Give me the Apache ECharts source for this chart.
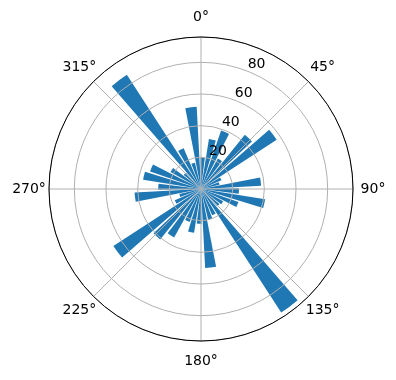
<!DOCTYPE html>
<html>
<head>
<meta charset="utf-8">
<script src="https://cdn.jsdelivr.net/npm/echarts@6/dist/echarts.min.js"></script>
<style>
  html, body { margin: 0; padding: 0; background: #fff; }
  #chart { width: 396px; height: 380px; }
</style>
</head>
<body>
<div id="chart"></div>
<script>
// 36 direction bins of 10 degrees, clockwise from north
const bins = ['0', '10', '20', '30', '40', '50', '60', '70', '80', '90',
              '100', '110', '120', '130', '140', '150', '160', '170', '180', '190',
              '200', '210', '220', '230', '240', '250', '260', '270', '280', '290',
              '300', '310', '320', '330', '340', '350'];
const counts = [20, 32, 39, 22, 44, 57, 14, 12, 38, 24,
                41, 25, 16, 15, 93, 18, 20, 50, 22, 28,
                22, 35, 41, 66, 18, 14, 42, 27, 37, 34,
                22, 14, 86, 28, 17, 52];
const rMax = 96;
const radialTicks = [20, 40, 60, 80];
const angleTicks = [0, 45, 90, 135, 180, 225, 270, 315];

const center = [201, 189];
const outerPx = 152;
const labelPx = 172;   // where the degree labels sit, in pixels from centre
const font = 'DejaVu Sans';
const gridColor = '#b0b0b0';

const chart = echarts.init(document.getElementById('chart'));

chart.setOption({
    animation: false,
    polar: [
        { center: center, radius: outerPx },        // bars
        { center: center, radius: outerPx },        // grid
        { center: center, radius: [10, 162] },      // radial tick labels
        { center: center, radius: labelPx }         // degree labels
    ],
    angleAxis: [
        {
            polarIndex: 0, type: 'category', data: bins,
            startAngle: 92, clockwise: true,
            axisLine: { show: false }, axisTick: { show: false },
            axisLabel: { show: false }, splitLine: { show: false }
        },
        {
            polarIndex: 1, type: 'value', min: 0, max: 360, interval: 45,
            startAngle: 90, clockwise: true, z: 6,
            axisLine: { lineStyle: { color: '#000', width: 1 } },
            axisTick: { show: false },
            axisLabel: { show: false },
            splitLine: { lineStyle: { color: gridColor, width: 1 } }
        },
        {
            polarIndex: 2, type: 'value', min: 0, max: 360,
            startAngle: 66, clockwise: true,
            axisLine: { show: false }, axisTick: { show: false },
            axisLabel: { show: false }, splitLine: { show: false }
        },
        {
            polarIndex: 3, type: 'value', min: 0, max: 360,
            startAngle: 90, clockwise: true,
            axisLine: { show: false }, axisTick: { show: false },
            axisLabel: { show: false }, splitLine: { show: false }
        }
    ],
    radiusAxis: [
        {
            polarIndex: 0, min: 0, max: rMax,
            axisLine: { show: false }, axisTick: { show: false },
            axisLabel: { show: false }, splitLine: { show: false }
        },
        {
            polarIndex: 1, min: 0, max: rMax, interval: 20, z: 5,
            axisLine: { show: false }, axisTick: { show: false },
            axisLabel: { show: false },
            splitLine: { lineStyle: { color: gridColor, width: 1 } }
        },
        {
            polarIndex: 2, min: 0, max: rMax, interval: 20, z: 7,
            axisLine: { show: false }, axisTick: { show: false },
            splitLine: { show: false },
            axisLabel: {
                margin: 0, align: 'center', verticalAlign: 'middle',
                color: '#000', fontSize: 14, fontFamily: font,
                formatter: v => radialTicks.includes(v) ? String(v) : ''
            }
        },
        {
            polarIndex: 3, min: 0, max: 1,
            axisLine: { show: false }, axisTick: { show: false },
            axisLabel: { show: false }, splitLine: { show: false }
        }
    ],
    series: [
        {
            type: 'bar',
            coordinateSystem: 'polar',
            polarIndex: 0,
            data: counts,
            barWidth: '80%',
            itemStyle: { color: '#1f77b4' }
        },
        {
            // degree labels centred just outside the ring, like matplotlib
            type: 'scatter',
            coordinateSystem: 'polar',
            polarIndex: 3,
            silent: true,
            symbolSize: 2,
            itemStyle: { color: 'rgba(0,0,0,0)' },
            data: angleTicks.map(a => [1, a]),
            label: {
                show: true, position: 'inside',
                align: 'center', verticalAlign: 'middle',
                color: '#000', textBorderWidth: 0, opacity: 1,
                fontSize: 14, fontFamily: font,
                formatter: p => p.value[1] + '°'
            }
        }
    ]
});
</script>
</body>
</html>
